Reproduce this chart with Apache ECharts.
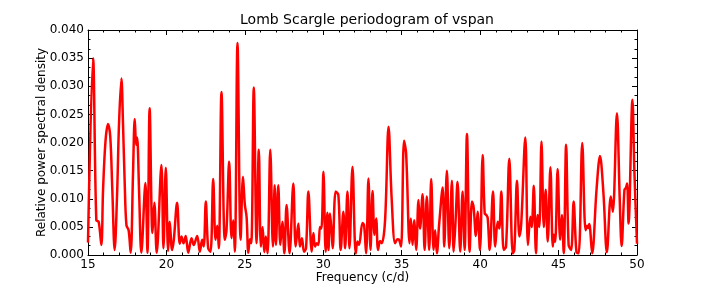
<!DOCTYPE html>
<html>
<head>
<meta charset="utf-8">
<script src="https://cdn.jsdelivr.net/npm/echarts@6/dist/echarts.min.js"></script>
<style>html,body{margin:0;padding:0;background:#fff}#c{width:708px;height:284px}</style>
</head>
<body>
<div id="c"></div>
<script>
const titleText = 'Lomb Scargle periodogram of vspan';
const xName = 'Frequency (c/d)';
const yName = 'Relative power spectral density';
const xTicks = [15, 20, 25, 30, 35, 40, 45, 50];
const yTicks = [0, 0.005, 0.01, 0.015, 0.02, 0.025, 0.03, 0.035, 0.04];

const freqs = [
15.00,15.32,15.53,15.68,15.85,15.96,16.12,16.28,16.42,16.55,16.70,16.85,16.98,17.13,17.23,17.34,17.45,17.59,17.72,17.87,
17.98,18.07,18.13,18.26,18.40,18.66,18.79,18.93,19.11,19.23,19.38,19.68,19.81,19.96,20.11,20.21,20.36,20.47,20.68,20.85,
20.96,21.09,21.23,21.39,21.60,21.74,21.96,22.13,22.28,22.38,22.51,22.66,22.81,22.98,23.13,23.24,23.34,23.51,23.72,23.83,
24.00,24.15,24.26,24.36,24.53,24.73,24.88,25.00,25.11,25.22,25.32,25.41,25.57,25.75,25.89,26.02,26.13,26.24,26.34,26.45,
26.62,26.79,26.90,26.98,27.13,27.26,27.39,27.52,27.66,27.85,28.09,28.24,28.41,28.51,28.64,28.77,28.90,29.05,29.26,29.37,
29.47,29.58,29.69,29.79,29.88,30.01,30.15,30.26,30.33,30.43,30.54,30.60,30.79,30.96,31.11,31.28,31.39,31.54,31.67,31.86,
32.07,32.18,32.28,32.50,32.60,32.73,32.88,33.01,33.14,33.26,33.37,33.49,33.62,33.73,33.94,34.16,34.36,34.58,34.73,34.83,
34.96,35.15,35.28,35.50,35.58,35.69,35.79,35.92,36.07,36.17,36.33,36.46,36.60,36.75,36.88,37.03,37.13,37.24,37.39,37.61,
37.71,37.88,38.03,38.20,38.31,38.43,38.56,38.73,38.88,39.01,39.16,39.33,39.48,39.58,39.73,39.84,39.99,40.16,40.29,40.39,
40.48,40.61,40.82,40.96,41.12,41.22,41.35,41.50,41.65,41.86,42.08,42.18,42.35,42.50,42.62,42.88,43.05,43.20,43.29,43.42,
43.56,43.67,43.77,43.91,44.06,44.18,44.31,44.48,44.63,44.69,44.78,44.94,45.10,45.21,45.33,45.48,45.64,45.80,45.96,46.14,
46.28,46.51,46.72,46.82,46.90,46.96,47.14,47.42,47.64,47.86,48.08,48.33,48.46,48.72,48.90,49.02,49.20,49.29,49.37,49.46,
49.71,49.83,50.00
];
const power = [
0.0022,0.0350,0.0062,0.0059,0.0018,0.0116,0.0204,0.0233,0.0210,0.0116,0.0009,0.0104,0.0235,0.0314,0.0235,0.0128,0.0053,0.0044,0.0004,0.0145,
0.0242,0.0196,0.0209,0.0110,0.0004,0.0128,0.0004,0.0261,0.0039,0.0093,0.0004,0.0160,0.0012,0.0155,0.0007,0.0059,0.0009,0.0027,0.0093,0.0020,
0.0033,0.0021,0.0034,0.0004,0.0030,0.0018,0.0034,0.0006,0.0027,0.0015,0.0095,0.0012,0.0006,0.0135,0.0027,0.0052,0.0012,0.0290,0.0027,0.0044,
0.0166,0.0030,0.0062,0.0006,0.0377,0.0027,0.0139,0.0089,0.0068,0.0004,0.0028,0.0021,0.0298,0.0021,0.0187,0.0015,0.0050,0.0005,0.0033,0.0003,
0.0187,0.0015,0.0124,0.0018,0.0124,0.0018,0.0059,0.0003,0.0089,0.0003,0.0127,0.0015,0.0056,0.0015,0.0030,0.0006,0.0012,0.0113,0.0006,0.0039,
0.0015,0.0021,0.0018,0.0050,0.0047,0.0148,0.0006,0.0075,0.0009,0.0074,0.0036,0.0012,0.0113,0.0107,0.0009,0.0077,0.0012,0.0113,0.0012,0.0157,
0.0003,0.0024,0.0018,0.0057,0.0053,0.0003,0.0136,0.0009,0.0114,0.0036,0.0065,0.0009,0.0025,0.0021,0.0062,0.0228,0.0100,0.0021,0.0028,0.0027,
0.0015,0.0203,0.0181,0.0021,0.0065,0.0018,0.0062,0.0009,0.0098,0.0047,0.0108,0.0009,0.0104,0.0009,0.0135,0.0009,0.0044,0.0003,0.0056,0.0120,
0.0015,0.0150,0.0012,0.0132,0.0006,0.0059,0.0130,0.0006,0.0113,0.0009,0.0215,0.0006,0.0095,0.0086,0.0034,0.0077,0.0009,0.0178,0.0074,0.0071,
0.0066,0.0009,0.0113,0.0015,0.0059,0.0047,0.0113,0.0009,0.0015,0.0171,0.0003,0.0009,0.0132,0.0033,0.0056,0.0209,0.0018,0.0068,0.0050,0.0123,
0.0003,0.0071,0.0050,0.0202,0.0050,0.0116,0.0024,0.0156,0.0015,0.0036,0.0023,0.0153,0.0027,0.0071,0.0003,0.0196,0.0018,0.0009,0.0095,0.0005,
0.0003,0.0199,0.0044,0.0052,0.0048,0.0055,0.0003,0.0116,0.0176,0.0110,0.0005,0.0104,0.0077,0.0252,0.0098,0.0016,0.0116,0.0119,0.0127,0.0056,
0.0276,0.0151,0.0020
];

const FONT = '"DejaVu Sans", sans-serif';
const seriesData = freqs.map((f, i) => [f, power[i]]);
const xMin = xTicks[0], xMax = xTicks[xTicks.length - 1], xStep = xTicks[1] - xTicks[0];
const yMin = yTicks[0], yMax = yTicks[yTicks.length - 1], yStep = yTicks[1] - yTicks[0];

function xAx(pos, labels) {
  return {
    type: 'value', position: pos, min: xMin, max: xMax, interval: xStep,
    name: labels ? xName : '', nameLocation: 'middle', nameGap: 17, nameMoveOverlap: false,
    nameTextStyle: { color: '#000', fontSize: 12, fontFamily: FONT, verticalAlign: 'top' },
    axisLine: { show: true, onZero: false, lineStyle: { color: '#000', width: 1 } },
    axisTick: { show: true, inside: true, length: 5, lineStyle: { color: '#000' } },
    minorTick: { show: true, splitNumber: 5, length: 2.5, lineStyle: { color: '#000' } },
    axisLabel: { show: labels, color: '#000', fontSize: 12, fontFamily: FONT, margin: 4 },
    splitLine: { show: false }, minorSplitLine: { show: false }
  };
}
function yAx(pos, labels) {
  return {
    type: 'value', position: pos, min: yMin, max: yMax, interval: yStep,
    name: labels ? yName : '', nameLocation: 'middle', nameGap: 40, nameRotate: 90, nameMoveOverlap: false,
    nameTextStyle: { color: '#000', fontSize: 12, fontFamily: FONT },
    axisLine: { show: true, onZero: false, lineStyle: { color: '#000', width: 1 } },
    axisTick: { show: true, inside: true, length: 5, lineStyle: { color: '#000' } },
    minorTick: { show: true, splitNumber: 3, length: 2.5, lineStyle: { color: '#000' } },
    axisLabel: { show: labels, color: '#000', fontSize: 12, fontFamily: FONT, margin: 4,
      formatter: v => v.toFixed(3) },
    splitLine: { show: false }, minorSplitLine: { show: false }
  };
}

const chart = echarts.init(document.getElementById('c'), null, { renderer: 'canvas' });
chart.setOption({
  animation: false,
  backgroundColor: '#fff',
  title: {
    text: titleText, left: 362, top: 8, textAlign: 'center',
    textStyle: { color: '#000', fontSize: 14, fontWeight: 'normal', fontFamily: FONT }
  },
  grid: { left: 88, top: 30, width: 549, height: 225, containLabel: false, outerBoundsMode: 'none' },
  xAxis: [xAx('bottom', true), xAx('top', false)],
  yAxis: [yAx('left', true), yAx('right', false)],
  series: [{
    type: 'line', xAxisIndex: 0, yAxisIndex: 0, data: seriesData,
    showSymbol: false, smooth: 0.35, clip: true,
    lineStyle: { color: '#ff0000', width: 2.5 }
  }]
});
</script>
</body>
</html>
